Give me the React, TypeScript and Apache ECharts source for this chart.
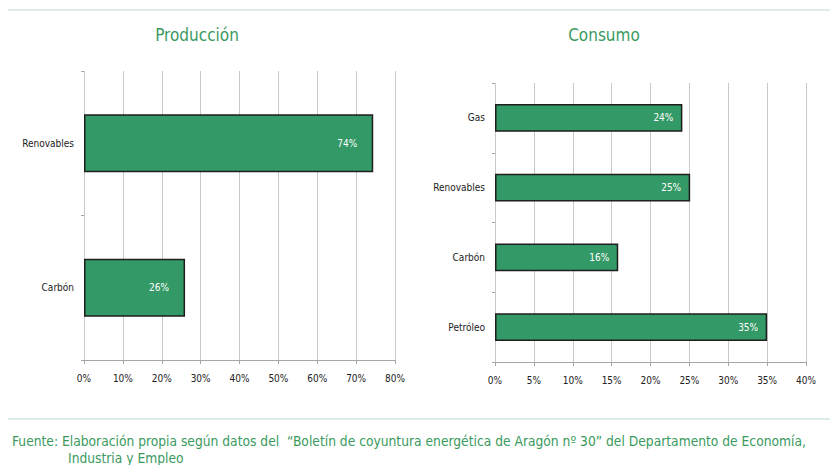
import React, { useEffect, useRef } from "react";
import * as echarts from "echarts";

const prodCategories = ["Renovables", "Carbón"];
const prodValues = [74.4, 26];
const prodLabels = ["74%", "26%"];
const prodTicks = [0, 10, 20, 30, 40, 50, 60, 70, 80];

const consCategories = ["Gas", "Renovables", "Carbón", "Petróleo"];
const consValues = [24.1, 25.1, 15.85, 35];
const consLabels = ["24%", "25%", "16%", "35%"];
const consTicks = [0, 5, 10, 15, 20, 25, 30, 35, 40];

const titleProd = "Producción";
const titleCons = "Consumo";
const footer1 = "Fuente: Elaboración propia según datos del  “Boletín de coyuntura energética de Aragón nº 30” del Departamento de Economía,";
const footer2 = "Industria y Empleo";

const FONT = "'DejaVu Sans Condensed', 'Liberation Sans Narrow', sans-serif";
const GREEN_TEXT = "#3a9a5e";
const BAR = "#339966";

export default function App() {
  const ref = useRef<HTMLDivElement>(null);
  useEffect(() => {
    document.body.style.margin = "0";
    const chart = echarts.init(ref.current!, null, { renderer: "svg" });
    const xAxisCommon = (ticks: number[]) => ({
      type: "value" as const,
      min: ticks[0],
      max: ticks[ticks.length - 1],
      interval: ticks[1] - ticks[0],
      axisLine: { show: true, lineStyle: { color: "#a6a6a6", width: 1 } },
      axisTick: { show: true, length: 4, lineStyle: { color: "#a6a6a6" } },
      splitLine: { show: true, lineStyle: { color: "#c8c8c8", width: 1 } },
      axisLabel: { formatter: "{value}%", fontFamily: FONT, fontSize: 10, color: "#222", margin: 13 },
    });
    const yAxisCommon = (cats: string[]) => ({
      type: "category" as const,
      data: cats,
      inverse: true,
      axisLine: { show: false },
      axisTick: { show: true, length: 3, lineStyle: { color: "#a6a6a6" } },
      axisLabel: { fontFamily: FONT, fontSize: 10, color: "#222", margin: 10 },
    });
    const barSeries = (idx: number, vals: number[], labels: string[], dist: number) => ({
      type: "bar" as const,
      xAxisIndex: idx,
      yAxisIndex: idx,
      data: vals,
      barWidth: "40%",
      itemStyle: { color: BAR, borderColor: "#1e1e1e", borderWidth: 1.5 },
      label: {
        show: true,
        position: "insideRight" as const,
        distance: dist,
        color: "#fff",
        fontFamily: FONT,
        fontSize: 10,
        formatter: (p: any) => labels[p.dataIndex],
      },
    });
    chart.setOption({
      animation: false,
      grid: [
        { left: 84, top: 71, width: 311, height: 289 },
        { left: 495, top: 83, width: 311, height: 279 },
      ],
      xAxis: [{ gridIndex: 0, ...xAxisCommon(prodTicks) }, { gridIndex: 1, ...xAxisCommon(consTicks) }],
      yAxis: [{ gridIndex: 0, ...yAxisCommon(prodCategories) }, { gridIndex: 1, ...yAxisCommon(consCategories) }],
      series: [barSeries(0, prodValues, prodLabels, 16), barSeries(1, consValues, consLabels, 9)],
      graphic: [
        { type: "line", shape: { x1: 8, y1: 10, x2: 830, y2: 10 }, style: { stroke: "#dceee4", lineWidth: 2 } },
        { type: "line", shape: { x1: 8, y1: 419, x2: 830, y2: 419 }, style: { stroke: "#dceee4", lineWidth: 2 } },
        { type: "text", x: 197, y: 35, style: { text: titleProd, fill: GREEN_TEXT, font: `17px ${FONT}`, textAlign: "center", textVerticalAlign: "middle" } },
        { type: "text", x: 604, y: 35, style: { text: titleCons, fill: GREEN_TEXT, font: `17px ${FONT}`, textAlign: "center", textVerticalAlign: "middle" } },
        { type: "text", x: 12, y: 441, style: { text: footer1, fill: GREEN_TEXT, font: `13.7px ${FONT}`, textVerticalAlign: "middle" } },
        { type: "text", x: 68, y: 458, style: { text: footer2, fill: GREEN_TEXT, font: `13.7px ${FONT}`, textVerticalAlign: "middle" } },
      ],
    });
    return () => chart.dispose();
  }, []);
  return <div ref={ref} style={{ width: 830, height: 465 }} />;
}
